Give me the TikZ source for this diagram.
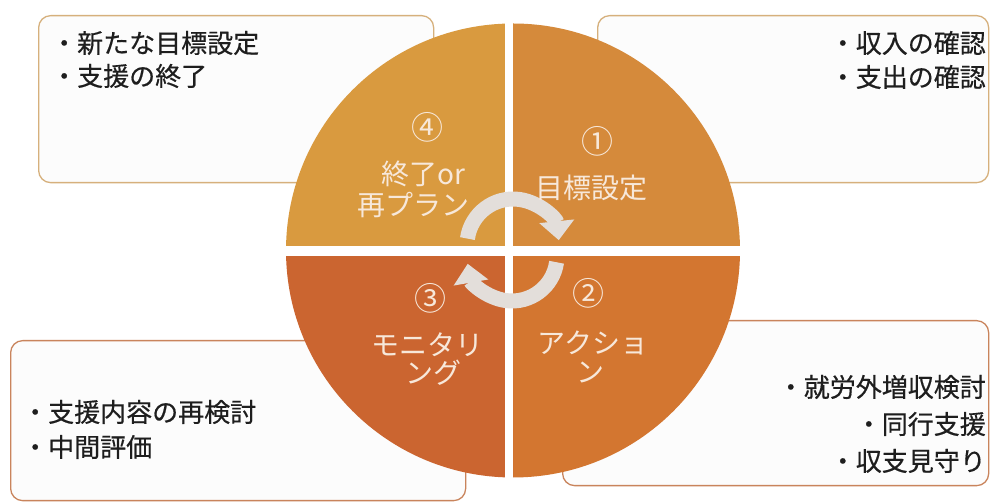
\documentclass[tikz,border=0pt]{standalone}
\usepackage{fontspec}
\setmainfont{Noto Sans CJK JP}
\newfontfamily\boxfont[FakeBold=0.5]{Noto Sans CJK JP}
\usetikzlibrary{arrows.meta}
\definecolor{qa}{HTML}{D99A3F}
\definecolor{qb}{HTML}{D58A3B}
\definecolor{qc}{HTML}{D37630}
\definecolor{qd}{HTML}{CB6530}
\definecolor{qtext}{HTML}{F7E8DA}
\definecolor{bordertan}{HTML}{D6B07C}
\definecolor{borderrust}{HTML}{C9845C}
\definecolor{boxfill}{HTML}{FCFCFC}
\definecolor{arrowgray}{HTML}{E3DEDA}
\definecolor{ink}{HTML}{1E1E1E}
\begin{document}
\begin{tikzpicture}[x=1pt,y=1pt,
  infobox/.style={draw, line width=1.3pt, fill=boxfill, rounded corners=12pt, inner sep=0pt},
  qlabel/.style={text=qtext, font=\fontsize{28}{30}\selectfont, inner sep=0pt},
  qnum/.style={text=qtext, font=\fontsize{32}{34}\selectfont, inner sep=0pt},
  boxtext/.style={text=ink, font=\boxfont\fontsize{26}{28}\selectfont, inner sep=0pt},
  cyc/.style={draw=arrowgray, line width=15pt, -{Triangle[width=34pt,length=19pt]}}
]
\useasboundingbox (0,0) rectangle (990,502);
\fill[white] (0,0) rectangle (990,502);
% info boxes
\node[infobox, draw=bordertan, anchor=north west, minimum width=395pt, minimum height=167pt] (boxTL) at (38,487) {};
\node[infobox, draw=bordertan, anchor=north west, minimum width=391pt, minimum height=167pt] (boxTR) at (597,487) {};
\node[infobox, draw=borderrust, anchor=north west, minimum width=455pt, minimum height=160pt] (boxBL) at (10,162) {};
\node[infobox, draw=borderrust, anchor=north west, minimum width=426pt, minimum height=165pt] (boxBR) at (562,182) {};
% circle quadrants
\coordinate (c) at (513,251.5);
\fill[qa] (c) -- ++(180:227) arc[start angle=180,end angle=90,radius=227] -- cycle;
\fill[qb] (c) -- ++(90:227) arc[start angle=90,end angle=0,radius=227] -- cycle;
\fill[qc] (c) -- ++(0:227) arc[start angle=0,end angle=-90,radius=227] -- cycle;
\fill[qd] (c) -- ++(-90:227) arc[start angle=-90,end angle=-180,radius=227] -- cycle;
\draw[white, line width=8.5pt] (509,20) -- (509,483);
\draw[white, line width=10pt] (280,251) -- (746,251);
% cycle arrows
\coordinate (cu) at (513,257);
\coordinate (cl) at (512,246);
\draw[cyc] ([shift={(172:46)}]cu) arc[start angle=172,end angle=6,radius=46];
\draw[cyc] ([shift={(-8:45)}]cl) arc[start angle=-8,end angle=-170,radius=45];
% quadrant labels
\node[qnum] (n4) at (427,375) {④};
\node[qlabel] (t4a) at (423,328) {終了or};
\node[qlabel] (t4b) at (413,297) {再プラン};
\node[qnum] (n1) at (597,361) {①};
\node[qlabel] (t1) at (591,314) {目標設定};
\node[qnum] (n2) at (588,209) {②};
\node[qlabel] (t2a) at (593,159) {アクショ};
\node[qlabel] (t2b) at (590,129) {ン};
\node[qnum] (n3) at (430,204) {③};
\node[qlabel] (t3a) at (427,157) {モニタリ};
\node[qlabel] (t3b) at (433,129) {ング};
% box texts
\node[boxtext, anchor=west] (tl1) at (51,459) {・新たな目標設定};
\node[boxtext, anchor=west] (tl2) at (51,426) {・支援の終了};
\node[boxtext, anchor=east] (tr1) at (986,459) {・収入の確認};
\node[boxtext, anchor=east] (tr2) at (986,425) {・支出の確認};
\node[boxtext, anchor=west] (bl1) at (22,90) {・支援内容の再検討};
\node[boxtext, anchor=west] (bl2) at (22,55) {・中間評価};
\node[boxtext, anchor=east] (br1) at (986,115) {・就労外増収検討};
\node[boxtext, anchor=east] (br2) at (986,78) {・同行支援};
\node[boxtext, anchor=east] (br3) at (986,41) {・収支見守り};
\end{tikzpicture}
\end{document}
